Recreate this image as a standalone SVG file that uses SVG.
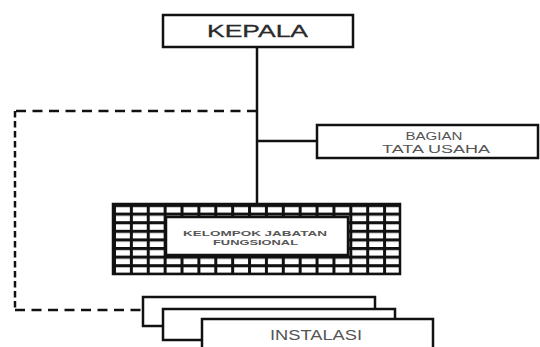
<svg xmlns="http://www.w3.org/2000/svg" width="540" height="347" viewBox="0 0 540 347">
<style>
.box{fill:#fff;stroke:#111;stroke-width:2.5}
.ln{fill:none;stroke:#111;stroke-width:2.5}
.dh{fill:none;stroke:#111;stroke-width:2.5;stroke-dasharray:10 6.5}
.dv{fill:none;stroke:#111;stroke-width:2.5;stroke-dasharray:6.5 3.5}
.t{font-family:"Liberation Sans",Arial,sans-serif;text-anchor:middle}
</style>
<defs>
<pattern id="grid" patternUnits="userSpaceOnUse" x="113" y="204" width="16.88" height="8.6">
<rect width="16.88" height="8.6" fill="#fff"/>
<path d="M0 0H16.88M0 0V8.6" stroke="#111" stroke-width="6" fill="none"/>
</pattern>
</defs>
<rect width="540" height="347" fill="#fff"/>
<g id="connectors">
<path class="ln" d="M257 47V204"/>
<path class="ln" d="M257 141H317"/>
<path class="dh" d="M257 111H15"/>
<path class="dv" d="M15 111V310"/>
<path class="dh" d="M15 310H143"/>
</g>
<g id="kepala">
<rect class="box" x="163" y="15" width="190" height="32"/>
<text class="t" x="257.5" y="37" font-size="17" fill="#2a2a2a" stroke="#2a2a2a" stroke-width="0.3" textLength="101" lengthAdjust="spacingAndGlyphs">KEPALA</text>
</g>
<g id="bagian">
<rect class="box" x="317" y="125" width="221" height="33"/>
<text class="t" x="434" y="140" font-size="10" fill="#555" textLength="57" lengthAdjust="spacingAndGlyphs">BAGIAN</text>
<text class="t" x="436" y="153" font-size="10" fill="#555" textLength="108" lengthAdjust="spacingAndGlyphs">TATA USAHA</text>
</g>
<g id="kelompok">
<rect x="113" y="204" width="287" height="70" fill="url(#grid)" stroke="#111" stroke-width="2.5"/>
<rect class="box" x="166" y="217" width="182" height="38"/>
<text class="t" x="255" y="236" font-size="7" font-weight="bold" fill="#555" textLength="144" lengthAdjust="spacingAndGlyphs">KELOMPOK JABATAN</text>
<text class="t" x="255.5" y="245" font-size="7" font-weight="bold" fill="#555" textLength="85" lengthAdjust="spacingAndGlyphs">FUNGSIONAL</text>
</g>
<g id="instalasi">
<rect class="box" x="143" y="297" width="232" height="29"/>
<rect class="box" x="163" y="309" width="232" height="31"/>
<rect class="box" x="202" y="319" width="231" height="40"/>
<text class="t" x="316" y="340" font-size="14" fill="#555" textLength="92" lengthAdjust="spacingAndGlyphs">INSTALASI</text>
</g>
</svg>
